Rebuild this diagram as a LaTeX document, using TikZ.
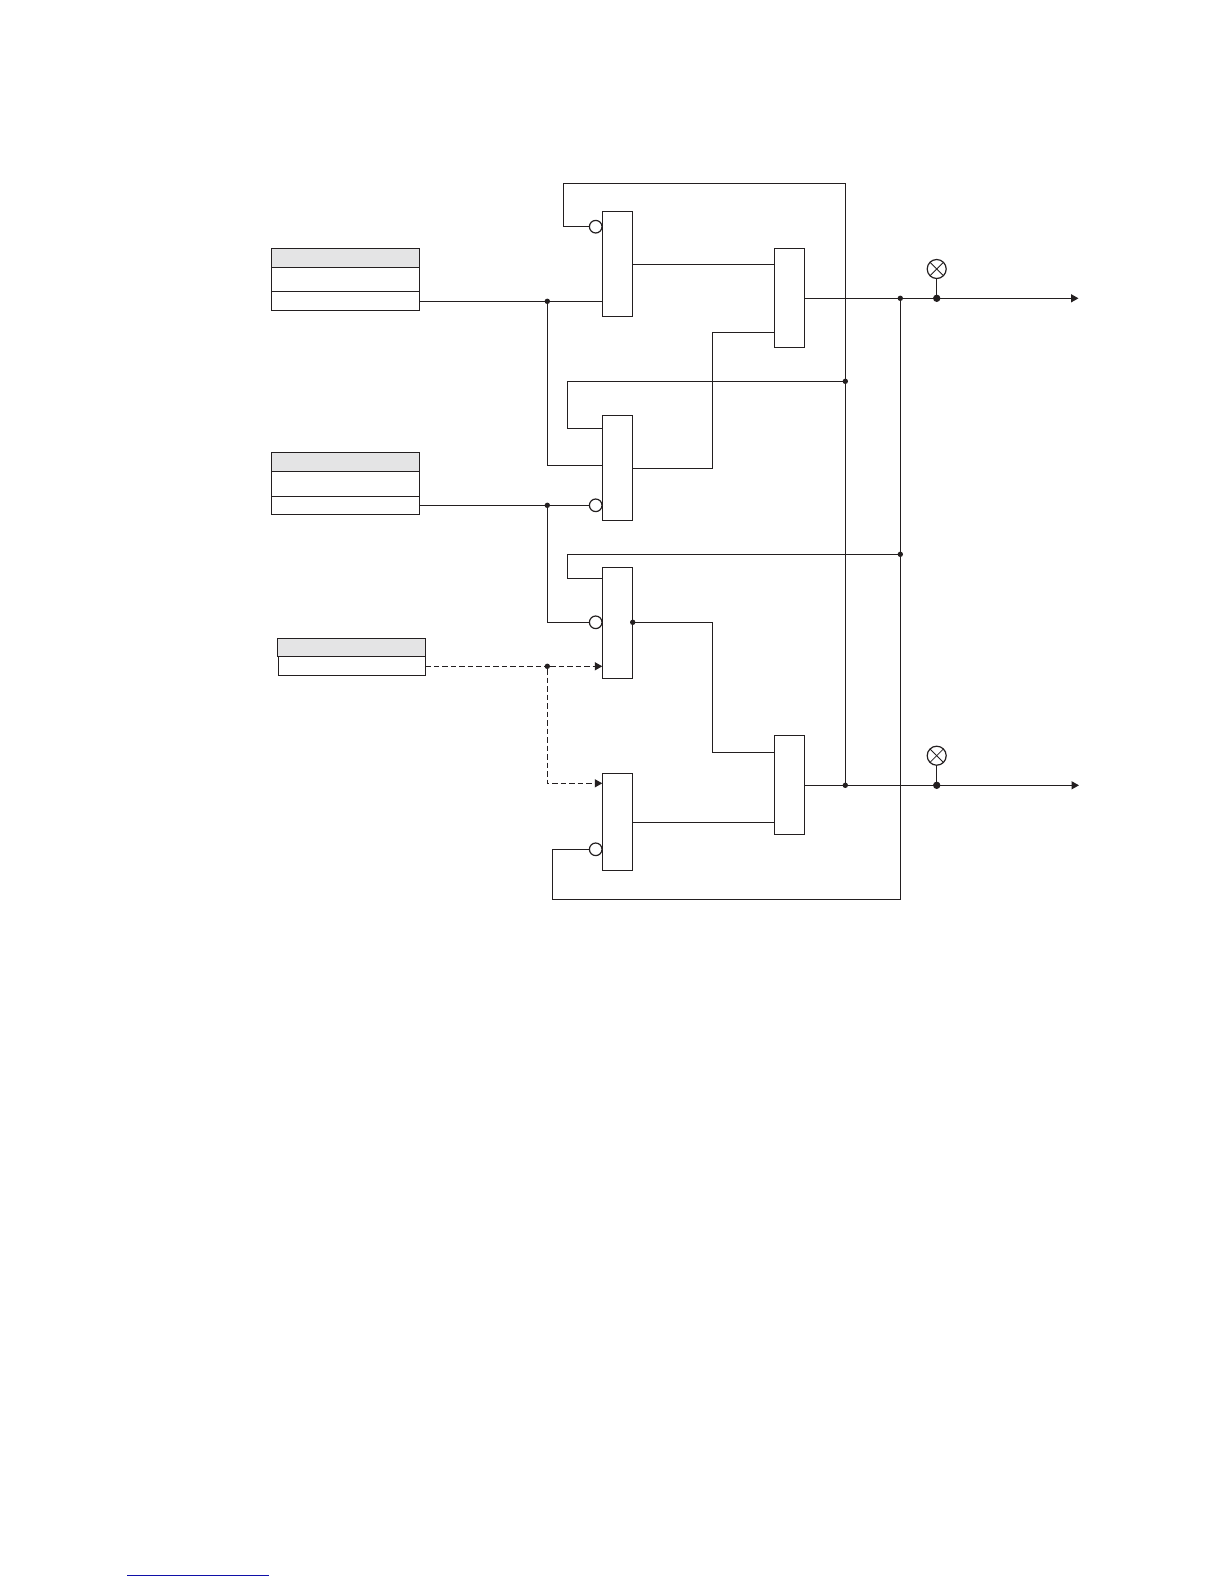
\documentclass[tikz,border=0pt]{standalone}
\usetikzlibrary{arrows.meta}
\definecolor{ink}{HTML}{231F20}
\definecolor{hdr}{HTML}{E4E4E5}
\definecolor{foot}{HTML}{1010A8}
\begin{document}
\begin{tikzpicture}[x=1pt,y=-1pt,
  wire/.style={draw=ink,line width=1.4pt,line join=miter},
  dashwire/.style={wire,dash pattern=on 5.5pt off 3pt},
  tip/.style={-{Triangle[length=7.5pt,width=8pt,color=ink]}},
  block/.style={draw=ink,fill=white,line width=1.4pt,rectangle,inner sep=0pt,outer sep=0pt,minimum width=30.4pt},
  cell/.style={draw=ink,fill=white,line width=1.4pt,rectangle,inner sep=0pt,outer sep=0pt,minimum width=148.4pt},
  hcell/.style={cell,fill=hdr},
  inv/.style={draw=ink,fill=white,line width=1.2pt,circle,inner sep=0pt,outer sep=0pt,minimum size=12.6pt},
  dot/.style={fill=ink,circle,inner sep=0pt,outer sep=0pt,minimum size=5.4pt},
  bigdot/.style={fill=ink,circle,inner sep=0pt,outer sep=0pt,minimum size=7.4pt},
  lamp/.style={draw=ink,fill=white,line width=1.2pt,circle,inner sep=0pt,outer sep=0pt,minimum size=19pt},
  lampx/.style={draw=ink,line width=.8pt}]
\useasboundingbox (0,0) rectangle (1224,1584);
% routing points
\coordinate (t1) at (563.3,183.3);
\coordinate (t2) at (567.3,381.3);
\coordinate (t3) at (567.3,554.3);
\coordinate (b1) at (552.3,899.3);
\coordinate (p2) at (602.3,428.3);
\coordinate (q2) at (602.3,465.3);
\coordinate (p3) at (602.3,578.3);
\coordinate (p4) at (602.3,783.3);
\coordinate (g2o) at (632.7,468.3);
\coordinate (g4o) at (632.7,822.3);
\coordinate (g1o) at (632.7,264.3);
\coordinate (v1) at (712.3,400);
\coordinate (r1a) at (774.3,264.3);
\coordinate (r1b) at (774.3,332.3);
\coordinate (r2a) at (774.3,752.3);
\coordinate (r2b) at (774.3,822.3);
\coordinate (e1) at (1078.5,298.3);
\coordinate (e2) at (1079,785.3);
\coordinate (f1) at (127,1575.3);
\coordinate (f2) at (269,1575.3);
% blocks
\node[hcell,minimum height=19pt] (a1) at (345.5,257.8) {};
\node[cell,minimum height=24pt] (a2) at (345.5,279.3) {};
\node[cell,minimum height=19pt] (a3) at (345.5,300.8) {};
\node[hcell,minimum height=19.4pt] (b1h) at (345.5,462) {};
\node[cell,minimum height=24.6pt] (b2) at (345.5,484) {};
\node[cell,minimum height=18pt] (b3) at (345.5,505.3) {};
\node[hcell,minimum width=148pt,minimum height=18pt] (c1h) at (351.3,647.3) {};
\node[cell,minimum width=147pt,minimum height=19pt] (c2) at (351.8,665.8) {};
\node[block,minimum height=105pt] (g1) at (617.5,263.8) {};
\node[block,minimum height=105pt] (g2) at (617.5,467.8) {};
\node[block,minimum height=111pt] (g3) at (617.5,622.8) {};
\node[block,minimum height=97pt] (g4) at (617.5,821.8) {};
\node[block,minimum height=99.4pt] (r1) at (789.5,298) {};
\node[block,minimum height=99.4pt] (r2) at (789.5,785) {};
% inverting circles
\node[inv] (c1) at (595.7,226.7) {};
\node[inv] (c2i) at (595.7,505.3) {};
\node[inv] (c3) at (595.7,622.3) {};
\node[inv] (c4) at (595.7,849.3) {};
% junctions
\node[dot] (j1) at (547.3,301.3) {};
\node[dot] (j3) at (547.3,505.3) {};
\node[dot] (j4) at (547.3,666.3) {};
\node[dot] (j5) at (845.3,381.3) {};
\node[dot] (j6) at (900.3,298.3) {};
\node[dot] (j7) at (845.3,785.3) {};
\node[dot] (j8) at (900.3,554.3) {};
\node[dot] (j9) at (632.7,622.3) {};
\node[bigdot] (k1) at (936.7,298.3) {};
\node[bigdot] (k2) at (936.7,785.3) {};
% lamps
\node[lamp] (l1) at (936.7,269) {};
\node[lamp] (l2) at (936.7,755.7) {};
\foreach \n in {l1,l2}{
  \draw[lampx] (\n.45) -- (\n.225);
  \draw[lampx] (\n.135) -- (\n.315);
}
% wires
\draw[wire] (c1.west) -| (t1) -| (j7);
\draw[wire] (j5) -- (t2) |- (p2);
\draw[wire] (j8) -- (t3) |- (p3);
\draw[wire] (j6) |- (b1) |- (c4.west);
\draw[wire] (j1) |- (q2);
\draw[wire] (j3) |- (c3.west);
\draw[wire] (g1o) -- (r1a);
\draw[wire] (g2o) -- (g2o -| v1) |- (r1b);
\draw[wire] (j9) -- (j9 -| v1) |- (r2a);
\draw[wire] (g4o) -- (r2b);
\draw[wire] (l1.south) -- (k1);
\draw[wire] (l2.south) -- (k2);
% straight connections
\draw[wire] (a3.east |- j1) -- (j1) -- (j1 -| g1.west);
\draw[wire] (b3.east) -- (j3) -- (c2i.west);
\draw[wire] (r1.east |- j6) -- (j6) -- (k1);
\draw[wire,tip] (k1) -- (e1);
\draw[wire] (r2.east |- j7) -- (j7) -- (k2);
\draw[wire,tip] (k2) -- (e2);
% dashed connections
\draw[dashwire] (c2.east |- j4) -- (j4);
\draw[dashwire,tip] (j4) -- (j4 -| g3.west);
\draw[dashwire,tip] (j4) |- (p4);
% footer rule
\draw[foot,line width=1.4pt] (f1) -- (f2);
\end{tikzpicture}
\end{document}
